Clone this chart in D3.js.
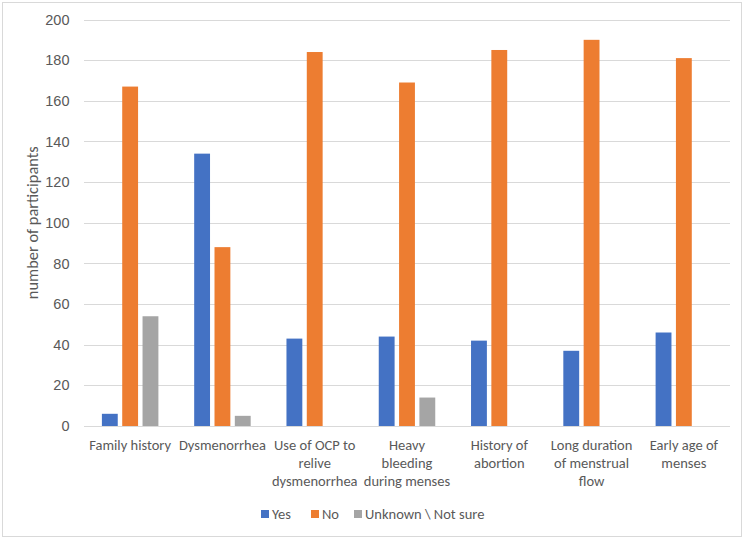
<!DOCTYPE html>
<html>
<head>
<meta charset="utf-8">
<script src="https://cdn.jsdelivr.net/npm/d3@7"></script>
<style>
  html, body { margin: 0; padding: 0; background: #fff; }
  svg { display: block; font-family: Carlito, Calibri, Lato, "Liberation Sans", sans-serif; }
</style>
</head>
<body>
<div id="chart"></div>
<script>
const categories = [
  "Family history",
  "Dysmenorrhea",
  "Use of OCP to relive dysmenorrhea",
  "Heavy bleeding during menses",
  "History of abortion",
  "Long duration of menstrual flow",
  "Early age of menses"
];
const categoryLines = [
  ["Family history"],
  ["Dysmenorrhea"],
  ["Use of OCP to", "relive", "dysmenorrhea"],
  ["Heavy", "bleeding", "during menses"],
  ["History of", "abortion"],
  ["Long duration", "of menstrual", "flow"],
  ["Early age of", "menses"]
];
const seriesNames = ["Yes", "No", "Unknown \\ Not sure"];
const yesValues = [6, 134, 43, 44, 42, 37, 46];
const noValues = [167, 88, 184, 169, 185, 190, 181];
const unknownValues = [54, 5, 0, 14, 0, 0, 0];
const yTicks = [0, 20, 40, 60, 80, 100, 120, 140, 160, 180, 200];
const colors = ["#4472C4", "#ED7D31", "#A5A5A5"];

const W = 750, H = 542;
const svg = d3.select("#chart").append("svg").attr("width", W).attr("height", H);

svg.append("rect").attr("x", 2.5).attr("y", 2.5).attr("width", 739).attr("height", 534)
  .attr("fill", "#fff").attr("stroke", "#D9D9D9").attr("stroke-width", 1);

const plot = { left: 84, right: 730, top: 19.5, bottom: 426 };
const y = d3.scaleLinear().domain([0, 200]).range([plot.bottom, plot.top]);
const x0 = d3.scaleBand().domain(categories).range([plot.left, plot.right]).padding(0);

const seriesValues = [yesValues, noValues, unknownValues];

// gridlines
svg.append("g").selectAll("line").data(yTicks).join("line")
  .attr("x1", plot.left).attr("x2", plot.right)
  .attr("y1", d => Math.round(y(d)) + 0.5).attr("y2", d => Math.round(y(d)) + 0.5)
  .attr("stroke", "#D9D9D9").attr("stroke-width", 1);

// y tick labels
const yAxis = d3.axisLeft(y).tickValues(yTicks).tickSize(0).tickPadding(0);
const yg = svg.append("g").attr("transform", `translate(${plot.left - 14.5},0)`).call(yAxis);
yg.select(".domain").remove();
yg.selectAll("text").attr("fill", "#595959").attr("font-size", 14.5).attr("font-family", null);

// bars
const groupW = 56.5;
const x1 = d3.scaleBand().domain(seriesNames).range([-groupW / 2, groupW / 2]).paddingInner(0.22).paddingOuter(0);
const groups = svg.append("g").selectAll("g").data(categories).join("g")
  .attr("transform", d => `translate(${x0(d) + x0.bandwidth() / 2},0)`);
groups.selectAll("rect").data((c, i) => seriesNames.map((s, k) => ({ s, k, v: seriesValues[k][i] })))
  .join("rect")
  .filter(d => d.v > 0)
  .attr("x", d => x1(d.s))
  .attr("width", x1.bandwidth())
  .attr("y", d => y(d.v))
  .attr("height", d => y(0) - y(d.v))
  .attr("fill", d => colors[d.k]);

// baseline axis
svg.append("line").attr("x1", plot.left).attr("x2", plot.right)
  .attr("y1", Math.round(y(0)) + 0.5).attr("y2", Math.round(y(0)) + 0.5)
  .attr("stroke", "#D9D9D9");

// x category labels
const xl = svg.append("g").selectAll("text").data(categories).join("text")
  .attr("x", d => x0(d) + x0.bandwidth() / 2)
  .attr("y", 450)
  .attr("text-anchor", "middle")
  .attr("fill", "#595959")
  .attr("font-size", 14.5);
xl.selectAll("tspan").data((d, i) => categoryLines[i]).join("tspan")
  .attr("x", function () { return d3.select(this.parentNode).attr("x"); })
  .attr("dy", (d, i) => i === 0 ? 0 : 18)
  .text(d => d);

// y axis title
const title = svg.append("text")
  .attr("transform", `translate(38,${(plot.top + plot.bottom) / 2}) rotate(-90)`)
  .attr("text-anchor", "middle")
  .attr("fill", "#595959")
  .attr("font-size", 14.5)
  .text("number of participants");
const tl = title.node().getComputedTextLength();
if (tl > 0) title.attr("font-size", 14.5 * 153 / tl);

// legend
const legendItems = [
  { name: seriesNames[0], x: 261 },
  { name: seriesNames[1], x: 311 },
  { name: seriesNames[2], x: 354 }
];
const lg = svg.append("g").selectAll("g").data(legendItems).join("g")
  .attr("transform", d => `translate(${d.x},514)`);
lg.append("rect").attr("x", 0).attr("y", -4).attr("width", 8).attr("height", 8)
  .attr("fill", (d, i) => colors[i]);
lg.append("text").attr("x", 11).attr("y", 0).attr("dy", "0.35em")
  .attr("fill", "#595959").attr("font-size", 14.5).text(d => d.name);
</script>
</body>
</html>
